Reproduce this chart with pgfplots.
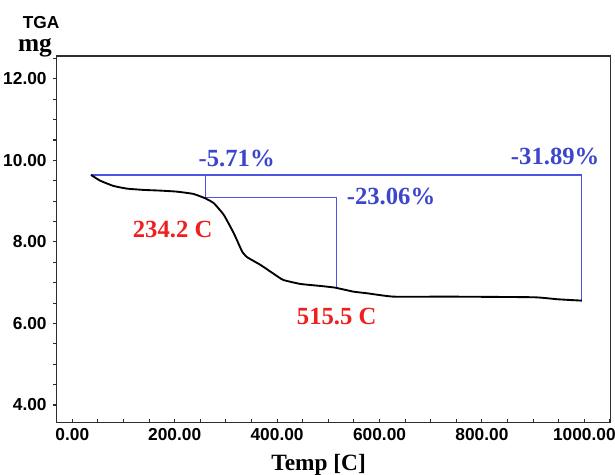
\documentclass[border=0pt]{standalone}
\usepackage{pgfplots}
\pgfplotsset{compat=1.18}
\usepackage{fontspec}
\setmainfont{Liberation Serif}
\setsansfont{Liberation Sans}
\definecolor{bline}{RGB}{75,85,225}
\definecolor{blab}{RGB}{60,70,205}
\definecolor{rlab}{RGB}{240,30,30}
\definecolor{axgray}{RGB}{45,45,45}
\begin{document}
\begin{tikzpicture}
\begin{axis}[
  scale only axis,
  width=415.5pt, height=275pt,
  xmin=-30.5, xmax=1051.5,
  ymin=3.566, ymax=12.56,
  clip=false,
  axis line style={axgray, line width=1.1pt},
  xtick={0,200,...,1000},
  ytick={4,6,...,12},
  minor xtick={50,100,...,1050},
  minor ytick={4.5,5,...,12.5},
  xtick pos=bottom, ytick pos=left,
  xtick align=inside, ytick align=outside,
  major tick length=3pt, minor tick length=2.5pt,
  tick style={axgray, line width=0.8pt},
  /pgf/number format/.cd, fixed, fixed zerofill, precision=2, 1000 sep={}, assume math mode=true,
  /pgfplots/.cd,
  ticklabel style={font=\fontsize{13}{14}\selectfont\sffamily\bfseries},
  xticklabel style={yshift=-1pt},
  yticklabel style={xshift=-1pt},
]
% blue brackets
\addplot[bline, line width=1pt] coordinates {(36.5,9.644) (995,9.644) (995,6.560)};
\addplot[bline, line width=1pt] coordinates {(260.5,9.644) (260.5,9.097) (515.5,9.097) (515.5,6.879)};
% TGA curve
\addplot[black, line width=1.4pt, smooth, tension=0.25] coordinates {
(36.5,9.644) (54.1,9.504) (80.1,9.374) (106.3,9.308) (138.7,9.276) (171.3,9.259)
(203.9,9.234) (236.3,9.178) (259.2,9.072) (276.4,8.950) (295.9,8.663) (315.4,8.213)
(331.8,7.762) (341.6,7.624) (367.6,7.436) (393.6,7.215) (412.0,7.067) (445.7,6.969)
(484.8,6.920) (513.1,6.879) (549.2,6.780) (575.4,6.741) (627.3,6.658) (738.7,6.658)
(901.4,6.643) (947.1,6.594) (995,6.560)};
% annotations
\node[blab, font=\fontsize{18.5}{20}\selectfont\bfseries] at (axis cs:321,10.054) {-5.71\%};
\node[blab, font=\fontsize{18.5}{20}\selectfont\bfseries] at (axis cs:622.5,9.112) {-23.06\%};
\node[blab, font=\fontsize{18.5}{20}\selectfont\bfseries] at (axis cs:943,10.09) {-31.89\%};
\node[rlab, font=\fontsize{18.5}{20}\selectfont\bfseries] at (axis cs:196,8.302) {234.2 C};
\node[rlab, font=\fontsize{18.5}{20}\selectfont\bfseries] at (axis cs:516.4,6.167) {515.5 C};
% axis titles
\node[anchor=base, font=\fontsize{13}{14}\selectfont\sffamily\bfseries] at (axis cs:-61,13.244) {TGA};
\node[anchor=base, font=\fontsize{19}{20}\selectfont\bfseries] at (axis cs:-72.9,12.66) {mg};
\node[anchor=base, font=\fontsize{17.5}{18}\selectfont\bfseries] at (axis cs:481,2.405) {Temp [C]};
\end{axis}
\pgfresetboundingbox
\path[use as bounding box] (-42.5pt,-38.5pt) rectangle (418.7pt,317pt);
\end{tikzpicture}
\end{document}
